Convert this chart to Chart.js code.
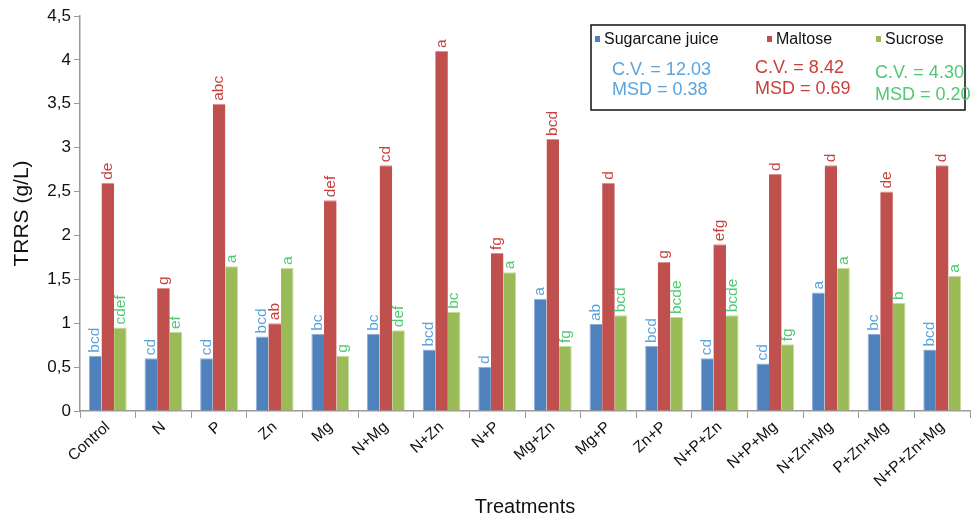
<!DOCTYPE html>
<html>
<head>
<meta charset="utf-8">
<script src="https://cdn.jsdelivr.net/npm/chart.js@4.4.0/dist/chart.umd.min.js"></script>
<style>
  html, body { margin: 0; padding: 0; background: #fff; }
  #wrap { width: 973px; height: 515px; }
</style>
</head>
<body>
<div id="wrap"><canvas id="chart" width="973" height="515"></canvas></div>
<script>
const treatments = ['Control', 'N', 'P', 'Zn', 'Mg', 'N+Mg', 'N+Zn', 'N+P', 'Mg+Zn', 'Mg+P', 'Zn+P', 'N+P+Zn', 'N+P+Mg', 'N+Zn+Mg', 'P+Zn+Mg', 'N+P+Zn+Mg'];
const sugarcane = [0.63, 0.6, 0.6, 0.85, 0.88, 0.88, 0.7, 0.5, 1.28, 0.99, 0.74, 0.6, 0.54, 1.35, 0.88, 0.7];
const maltose = [2.6, 1.4, 3.5, 1.0, 2.4, 2.8, 4.1, 1.8, 3.1, 2.6, 1.7, 1.9, 2.7, 2.8, 2.5, 2.8];
const sucrose = [0.95, 0.9, 1.65, 1.63, 0.63, 0.92, 1.13, 1.58, 0.74, 1.09, 1.07, 1.09, 0.76, 1.63, 1.23, 1.54];
const sugarcaneLetters = ['bcd', 'cd', 'cd', 'bcd', 'bc', 'bc', 'bcd', 'd', 'a', 'ab', 'bcd', 'cd', 'cd', 'a', 'bc', 'bcd'];
const maltoseLetters = ['de', 'g', 'abc', 'ab', 'def', 'cd', 'a', 'fg', 'bcd', 'd', 'g', 'efg', 'd', 'd', 'de', 'd'];
const sucroseLetters = ['cdef', 'ef', 'a', 'a', 'g', 'def', 'bc', 'a', 'fg', 'bcd', 'bcde', 'bcde', 'fg', 'a', 'b', 'a'];
const stats = [
  ['C.V. = 12.03', 'MSD = 0.38'],
  ['C.V. = 8.42', 'MSD = 0.69'],
  ['C.V. = 4.30', 'MSD = 0.20']
];

const barColors = ['#4f81bd', '#c0504d', '#9bbb59'];
const textColors = ['#5aa3dd', '#c9403b', '#4fc972'];
const FONT = '"Liberation Sans", Arial, sans-serif';

// letters above each bar, rotated
const letterPlugin = {
  id: 'letters',
  afterDatasetsDraw(chart) {
    const ctx = chart.ctx;
    const sets = [sugarcaneLetters, maltoseLetters, sucroseLetters];
    ctx.save();
    ctx.font = '15.5px ' + FONT;
    ctx.textAlign = 'left';
    ctx.textBaseline = 'middle';
    chart.data.datasets.forEach((ds, i) => {
      chart.getDatasetMeta(i).data.forEach((bar, j) => {
        ctx.save();
        ctx.translate(bar.x, bar.y - 3);
        ctx.rotate(-Math.PI / 2);
        ctx.fillStyle = textColors[i];
        ctx.fillText(sets[i][j], 0, 0);
        ctx.restore();
      });
    });
    ctx.restore();
  }
};

// legend box with stats
const legendBox = {
  id: 'legendBox',
  afterDraw(chart) {
    const ctx = chart.ctx;
    ctx.save();
    ctx.strokeStyle = '#111';
    ctx.lineWidth = 1.5;
    ctx.strokeRect(591, 25, 374, 85);
    const items = [[595, 'Sugarcane juice'], [767, 'Maltose'], [876, 'Sucrose']];
    ctx.font = '16px ' + FONT;
    ctx.textBaseline = 'middle';
    items.forEach((it, i) => {
      ctx.fillStyle = barColors[i];
      ctx.fillRect(it[0], 36, 5, 6);
      ctx.fillStyle = '#111';
      ctx.fillText(it[1], it[0] + 9, 40);
    });
    ctx.font = '18px ' + FONT;
    const pos = [[612, 70, 90], [755, 68, 89], [875, 73, 95]];
    stats.forEach((s, i) => {
      ctx.fillStyle = textColors[i];
      ctx.fillText(s[0], pos[i][0], pos[i][1]);
      ctx.fillText(s[1], pos[i][0], pos[i][2]);
    });
    ctx.restore();
  }
};

new Chart(document.getElementById('chart'), {
  type: 'bar',
  data: {
    labels: treatments,
    datasets: [
      { label: 'Sugarcane juice', data: sugarcane, backgroundColor: barColors[0], borderColor: '#8fb0d8', borderWidth: { top: 1, left: 1, right: 0, bottom: 0 } },
      { label: 'Maltose', data: maltose, backgroundColor: barColors[1], borderColor: '#dc8f8d', borderWidth: { top: 1, left: 0, right: 0, bottom: 0 } },
      { label: 'Sucrose', data: sucrose, backgroundColor: barColors[2], borderColor: '#c7dca0', borderWidth: { top: 1, left: 0, right: 1, bottom: 0 } }
    ]
  },
  options: {
    responsive: false,
    animation: false,
    layout: {
      padding: { top: 16, right: 3, left: 10, bottom: 0 }
    },
    plugins: {
      legend: { display: false },
      tooltip: { enabled: false }
    },
    datasets: {
      bar: { categoryPercentage: 0.68, barPercentage: 1.0 }
    },
    scales: {
      x: {
        grid: { display: true, drawOnChartArea: false, offset: true, tickLength: 7, color: '#999' },
        border: { color: '#999', width: 1.5 },
        ticks: { color: '#111', font: { family: FONT, size: 15.5 }, minRotation: 42, maxRotation: 42, padding: 0 },
        title: { display: true, text: 'Treatments', color: '#111', font: { family: FONT, size: 20, lineHeight: 0.8 }, padding: { top: 0, bottom: 0 } },
        afterFit(scale) { scale.height = 104; }
      },
      y: {
        min: 0,
        max: 4.5,
        grid: { display: true, drawOnChartArea: false, tickLength: 6, color: '#999' },
        border: { color: '#999', width: 1.5 },
        ticks: {
          stepSize: 0.5,
          color: '#111',
          padding: 3,
          font: { family: FONT, size: 17 },
          callback: v => String(v).replace('.', ',')
        },
        title: { display: true, text: 'TRRS (g/L)', color: '#111', font: { family: FONT, size: 21 }, padding: { top: 0, bottom: 2 } },
        afterFit(scale) { scale.width = 70; }
      }
    }
  },
  plugins: [letterPlugin, legendBox]
});
</script>
</body>
</html>
